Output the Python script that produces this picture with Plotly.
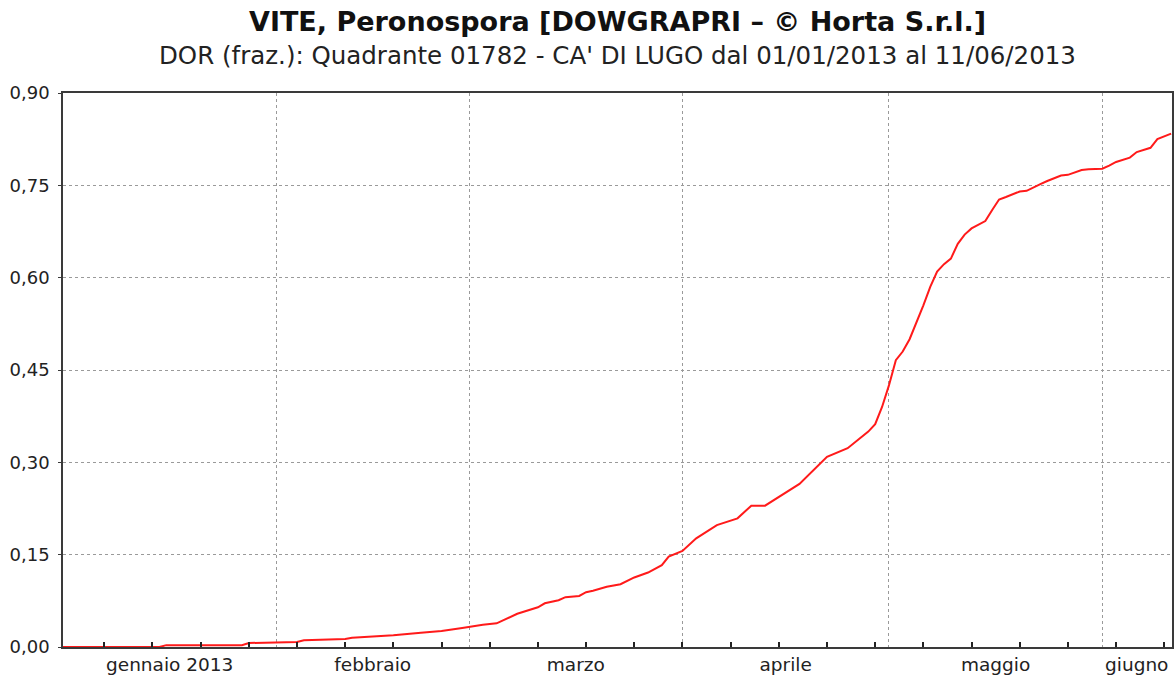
import plotly.graph_objects as go

# ------------------------------------------------------------------ #
# Data (cumulative index)               #
# ------------------------------------------------------------------ #

dates = [
    "2013-01-01", "2013-01-15", "2013-01-16", "2013-01-27", "2013-01-28",
    "2013-02-04", "2013-02-05", "2013-02-11", "2013-02-12", "2013-02-18",
    "2013-02-22", "2013-02-25", "2013-02-28", "2013-03-01", "2013-03-03",
    "2013-03-05", "2013-03-08", "2013-03-11", "2013-03-12", "2013-03-14",
    "2013-03-15", "2013-03-17", "2013-03-18", "2013-03-19", "2013-03-21",
    "2013-03-23", "2013-03-25", "2013-03-27", "2013-03-29", "2013-03-30",
    "2013-04-01", "2013-04-03", "2013-04-06", "2013-04-09", "2013-04-11",
    "2013-04-13", "2013-04-16", "2013-04-18", "2013-04-22", "2013-04-25",
    "2013-04-28", "2013-04-29", "2013-04-30", "2013-05-01", "2013-05-02",
    "2013-05-03", "2013-05-04", "2013-05-05", "2013-05-06", "2013-05-07",
    "2013-05-08", "2013-05-09", "2013-05-10", "2013-05-11", "2013-05-12",
    "2013-05-13", "2013-05-14", "2013-05-15", "2013-05-16", "2013-05-17",
    "2013-05-18", "2013-05-19", "2013-05-20", "2013-05-21", "2013-05-22",
    "2013-05-23", "2013-05-24", "2013-05-25", "2013-05-26", "2013-05-27",
    "2013-05-28", "2013-05-29", "2013-05-30", "2013-06-01", "2013-06-02",
    "2013-06-03", "2013-06-05", "2013-06-06", "2013-06-08", "2013-06-09",
    "2013-06-11",
]

values = [
    0.000, 0.000, 0.003, 0.003, 0.0065,
    0.008, 0.011, 0.013, 0.015, 0.019,
    0.023, 0.026, 0.031, 0.033, 0.036,
    0.0385, 0.054, 0.0645, 0.071, 0.076,
    0.081, 0.083, 0.089, 0.0915, 0.098,
    0.102, 0.113, 0.121, 0.133, 0.147,
    0.156, 0.1765, 0.198, 0.209, 0.2296,
    0.2296, 0.251, 0.265, 0.309, 0.323,
    0.350, 0.362, 0.390, 0.425, 0.466,
    0.480, 0.500, 0.526, 0.555, 0.585,
    0.610, 0.622, 0.631, 0.655, 0.670,
    0.680, 0.686, 0.692, 0.710, 0.727,
    0.731, 0.736, 0.740, 0.741, 0.747,
    0.752, 0.757, 0.762, 0.766, 0.767,
    0.771, 0.775, 0.776, 0.777, 0.782,
    0.788, 0.795, 0.804, 0.811, 0.825,
    0.834,
]

month_starts = ["2013-01-01", "2013-02-01", "2013-03-01", "2013-04-01", "2013-05-01", "2013-06-01"]
month_mids = ["2013-01-16 12:00", "2013-02-15", "2013-03-16 12:00", "2013-04-16", "2013-05-16 12:00", "2013-06-06"]
month_labels = ["gennaio 2013", "febbraio", "marzo", "aprile", "maggio", "giugno"]

y_ticks = [0.0, 0.15, 0.30, 0.45, 0.60, 0.75, 0.90]

X_RANGE = ["2013-01-01", "2013-06-11 03:00"]

FIG_W, FIG_H = 1174, 677

_FONT = dict(family="DejaVu Sans, Verdana, sans-serif", color="#222222")
_GRID = "#9a9a9a"
_AXIS = "#3a3a3a"

fig = go.Figure()
fig.add_trace(
    go.Scatter(
        x=dates,
        y=values,
        mode="lines",
        line=dict(color="#ff1a1a", width=2),
        showlegend=False,
        hoverinfo="skip",
    )
)
# invisible carrier so the month-label axis gets drawn
fig.add_trace(
    go.Scatter(
        x=month_mids,
        y=[0] * len(month_mids),
        xaxis="x2",
        mode="markers",
        marker=dict(opacity=0),
        showlegend=False,
        hoverinfo="skip",
    )
)

fig.update_layout(
    width=FIG_W,
    height=FIG_H,
    paper_bgcolor="white",
    plot_bgcolor="white",
    separators=",.",
    margin=dict(l=63, r=2, t=93, b=30),
    font=_FONT,
    title=dict(
        text="<b>VITE, Peronospora [DOWGRAPRI – © Horta S.r.l.]</b>",
        font=dict(size=27, color="#111111"),
        x=0.5,
        xref="paper",
        xanchor="center",
        y=1 - 12 / FIG_H,
        yref="container",
        yanchor="top",
    ),
    annotations=[
        dict(
            text="DOR (fraz.): Quadrante 01782 - CA' DI LUGO dal 01/01/2013 al 11/06/2013",
            xref="paper",
            yref="paper",
            x=0.5,
            y=1,
            yshift=38,
            showarrow=False,
            font=dict(size=24.5, color="#222222"),
            xanchor="center",
            yanchor="middle",
        )
    ],
    xaxis=dict(
        type="date",
        range=X_RANGE,
        tickmode="array",
        tickvals=month_starts,
        showticklabels=False,
        ticks="",
        showgrid=True,
        gridcolor=_GRID,
        griddash="dot",
        gridwidth=1,
        showline=True,
        linecolor=_AXIS,
        linewidth=1.5,
        mirror=True,
        zeroline=False,
        automargin=False,
        minor=dict(
            tick0="2013-01-07",
            dtick=7 * 86400000,
            ticks="inside",
            ticklen=5,
            tickwidth=2,
            tickcolor="#222222",
            showgrid=False,
        ),
    ),
    xaxis2=dict(
        type="date",
        range=X_RANGE,
        overlaying="x",
        anchor="y",
        side="bottom",
        tickmode="array",
        tickvals=month_mids,
        ticktext=month_labels,
        ticks="",
        ticklabelstandoff=4,
        showgrid=False,
        showline=False,
        zeroline=False,
        automargin=False,
        tickfont=dict(size=18.5, color="#222222"),
    ),
    yaxis=dict(
        range=[0, 0.9],
        tickmode="array",
        tickvals=y_ticks,
        tickformat=".2f",
        ticks="outside",
        ticklen=3,
        tickcolor=_AXIS,
        ticklabelstandoff=5,
        showgrid=True,
        gridcolor=_GRID,
        griddash="dot",
        gridwidth=1,
        showline=True,
        linecolor=_AXIS,
        linewidth=1.5,
        mirror=True,
        zeroline=False,
        automargin=False,
        tickfont=dict(size=18, color="#222222"),
    ),
)

# drop the default page margin so the figure fills the window exactly
fig.write_html(
    "out.html",
    config={"displayModeBar": False},
    post_script="document.body.style.margin='0';document.body.style.overflow='hidden';",
)
